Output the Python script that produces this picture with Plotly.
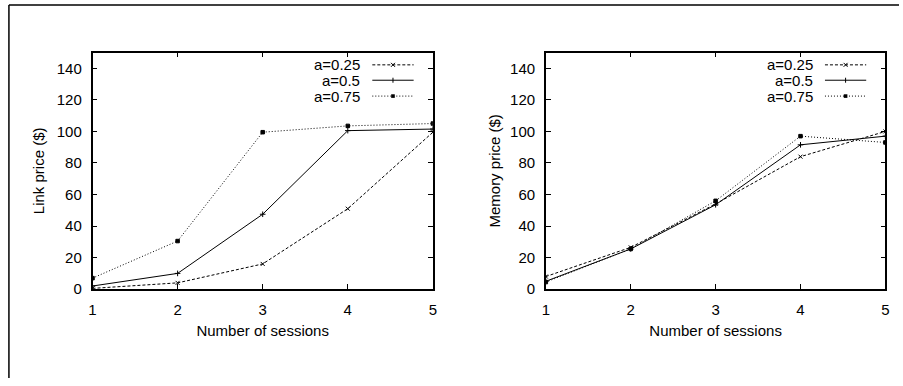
import plotly.graph_objects as go

sessions = [1, 2, 3, 4, 5]

link_a025 = [0.5, 4, 16, 51, 99.5]
link_a05 = [2, 10, 47.5, 100.5, 101.5]
link_a075 = [7, 30.5, 99.5, 103.5, 105]

mem_a025 = [8, 26.5, 54, 84, 100]
mem_a05 = [5, 25.5, 53.5, 91.5, 97]
mem_a075 = [4.5, 25.5, 56, 97, 93]

series_names = ["a=0.25", "a=0.5", "a=0.75"]
dashes = ["3px,2px", "solid", "1px,2px"]
symbols = ["x-thin", "cross-thin", "square"]

y_ticks = [0, 20, 40, 60, 80, 100, 120, 140]
x_ticks = [1, 2, 3, 4, 5]

FONT = "Liberation Sans, Arial, sans-serif"
FS = 15

fig = go.Figure()

panels = [
    ("x", "y", [link_a025, link_a05, link_a075]),
    ("x2", "y2", [mem_a025, mem_a05, mem_a075]),
]

for xa, ya, data in panels:
    for name, vals, dash, sym in zip(series_names, data, dashes, symbols):
        fig.add_trace(go.Scatter(
            x=sessions, y=vals, mode="lines+markers", name=name,
            xaxis=xa, yaxis=ya, showlegend=False,
            line=dict(color="black", width=1, dash=dash),
            marker=dict(symbol=sym, size=4 if sym != "square" else 3.5,
                        color="black",
                        line=dict(color="black", width=1)),
        ))

axis_common = dict(
    showline=True, linecolor="black", linewidth=1.5, mirror="ticks",
    ticks="inside", ticklen=5, tickcolor="black", tickwidth=1,
    showgrid=False, zeroline=False,
    tickfont=dict(family=FONT, size=FS, color="black"),
)

title_font = dict(family=FONT, size=FS, color="black")

fig.update_layout(
    width=903, height=386,
    margin=dict(l=0, r=0, t=0, b=0),
    paper_bgcolor="white", plot_bgcolor="white",
    font=dict(family=FONT, size=FS, color="black"),
    xaxis=dict(domain=[0.0989, 0.4792], range=[1, 5], tickvals=x_ticks,
               ticklabelstandoff=6,
               title=dict(text="Number of sessions", standoff=9, font=title_font),
               anchor="y", **axis_common),
    yaxis=dict(domain=[0.235, 0.861], range=[0, 150], tickvals=y_ticks,
               ticklabelstandoff=6,
               title=dict(text="Link price ($)", standoff=8, font=title_font),
               anchor="x", **axis_common),
    xaxis2=dict(domain=[0.6054, 0.9848], range=[1, 5], tickvals=x_ticks,
                ticklabelstandoff=6,
                title=dict(text="Number of sessions", standoff=9, font=title_font),
                anchor="y2", **axis_common),
    yaxis2=dict(domain=[0.235, 0.861], range=[0, 150], tickvals=y_ticks,
                ticklabelstandoff=6,
                title=dict(text="Memory price ($)", standoff=6, font=title_font),
                anchor="x2", **axis_common),
)

# Outer frame (top and left edges)
fig.add_shape(type="line", xref="paper", yref="paper",
              x0=0.0055, x1=1.0, y0=0.987, y1=0.987,
              line=dict(color="black", width=1.5))
fig.add_shape(type="line", xref="paper", yref="paper",
              x0=0.0055, x1=0.0055, y0=0.0, y1=0.987,
              line=dict(color="black", width=1.5))

# Manual gnuplot-style legends (text right, sample line with marker)
legend_y = [0.948, 0.883, 0.816]
for xa, ya in [("x", "y"), ("x2", "y2")]:
    xr = xa + " domain"
    yr = ya + " domain"
    for name, dash, sym, ly in zip(series_names, dashes, symbols, legend_y):
        fig.add_annotation(text=name, xref=xr, yref=yr, x=0.793, y=ly,
                           xanchor="right", yanchor="middle", showarrow=False,
                           font=dict(family=FONT, size=FS, color="black"))
        fig.add_shape(type="line", xref=xr, yref=yr, x0=0.822, x1=0.9435,
                      y0=ly, y1=ly, line=dict(color="black", width=1, dash=dash))
        xm = (0.822 + 0.9435) / 2
        if sym == "square":
            fig.add_shape(type="rect", xref=xr, yref=yr,
                          xsizemode="pixel", ysizemode="pixel",
                          xanchor=xm, yanchor=ly, x0=-1.8, x1=1.8, y0=-1.8, y1=1.8,
                          fillcolor="black", line=dict(color="black", width=0))
        elif sym == "x-thin":
            for (a, b) in [(-2, 2), (2, -2)]:
                fig.add_shape(type="line", xref=xr, yref=yr,
                              xsizemode="pixel", ysizemode="pixel",
                              xanchor=xm, yanchor=ly, x0=-2, x1=2, y0=a, y1=b,
                              line=dict(color="black", width=1))
        else:
            fig.add_shape(type="line", xref=xr, yref=yr,
                          xsizemode="pixel", ysizemode="pixel",
                          xanchor=xm, yanchor=ly, x0=0, x1=0, y0=-2.5, y1=2.5,
                          line=dict(color="black", width=1))

fig.write_html("out.html")
